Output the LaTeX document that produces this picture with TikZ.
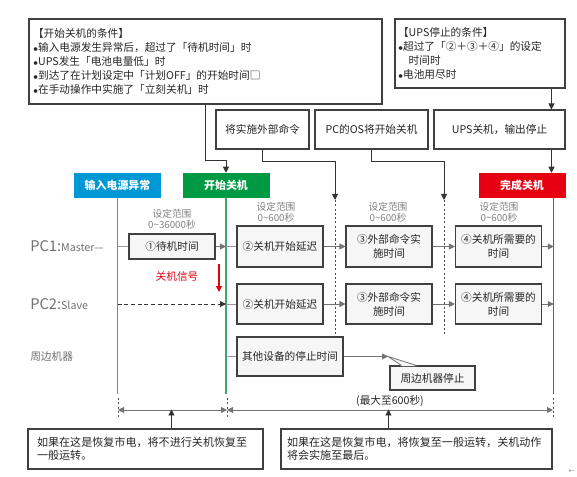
\documentclass[tikz,border=0pt]{standalone}
\usepackage{fontspec}
\setmainfont{Noto Sans CJK SC}
\usepackage{tikz}
\usetikzlibrary{arrows.meta,calc,positioning}
\definecolor{inblue}{RGB}{0,152,212}
\definecolor{stgreen}{RGB}{0,153,68}
\definecolor{endred}{RGB}{230,0,18}
\definecolor{boxfill}{RGB}{246,246,246}
\definecolor{labgray}{RGB}{112,112,112}
\newcommand{\dotb}{$\scriptstyle\bullet$}

\begin{document}
\begin{tikzpicture}[x=0.75pt, y=-0.75pt, >={Triangle[length=4.5pt,width=4.5pt]},
  every node/.style={font=\fontsize{8}{10.5}\selectfont, text=black!85, inner sep=0pt},
  sz/.style 2 args={minimum width=#1*0.75pt, minimum height=#2*0.75pt},
  tbox/.style={draw=black!75, line width=0.8pt, fill=boxfill, align=center},
  wbox/.style={draw=black!75, line width=0.8pt, fill=white, align=center},
  lbox/.style={draw=black!75, line width=0.8pt, fill=white, align=left},
  hdr/.style={fill=#1, text=white, font=\fontsize{8.2}{10}\selectfont\bfseries, sz={87}{25}},
  rng/.style={align=center, text=black!50, font=\fontsize{7.3}{8.2}\selectfont},
  conn/.style={->, draw=black!80, line width=0.7pt},
  flow/.style={->, draw=black!55, line width=0.7pt},
  feed/.style={draw=black!40, line width=0.7pt},
  sect/.style={draw=black!70, line width=0.6pt, dash pattern=on 1.6pt off 1.6pt},
  vline/.style={draw=#1, line width=0.9pt},
  side/.style={text=labgray, anchor=west}]
\useasboundingbox (0,0) rectangle (577,477);

% conditions and actions
\node[lbox, text width=258.75pt, inner xsep=3pt, minimum height=63.75pt] (startc) at (205.5,61.5)
  {【开始关机的条件】\\
   \dotb 输入电源发生异常后，超过了「待机时间」时\\
   \dotb UPS发生「电池电量低」时\\
   \dotb 到达了在计划设定中「计划OFF」的开始时间□\\
   \dotb 在手动操作中实施了「立刻关机」时};
\node[lbox, text width=123pt, inner xsep=2.25pt, minimum height=51.75pt] (upsc) at (480,53.5)
  {【UPS停止的条件】\\
   \dotb 超过了「②＋③＋④」的设定\\
   \hspace*{8pt}时间时\\
   \dotb 电池用尽时};
\node[wbox, sz={93}{39}] (ext) at (262.5,129.5) {将实施外部命令};
\node[wbox, sz={113}{39}] (os) at (371.5,129.5) {PC的OS将开始关机};
\node[wbox, sz={131}{39}] (upsoff) at (499.5,129.5) {UPS关机，输出停止};

\node[hdr=inblue] (inp) at (117.5,185.5) {输入电源异常};
\node[hdr=stgreen] (start) at (226,185.5) {开始关机};
\node[hdr=endred] (done) at (522,185.5) {完成关机};

\coordinate (d1) at (335,200);
\coordinate (d2) at (444,200);
\draw[conn] ($(startc.south west)+(177,0)$) |- ($(start.north)+(0,-12)$) -- (start.north);
\draw[conn] (ext.south) |- ($(d1)+(0,-39)$) -- (d1);
\draw[conn] (os.south) |- ($(d2)+(0,-39)$) -- (d2);
\draw[conn] ($(upsc.south west)+(157,0)$) coordinate (a) -- (a |- upsoff.north);
\draw[conn] ($(upsoff.south west)+(118,0)$) coordinate (b) -- (b |- done.north);

\draw[vline=inblue!85] (inp.south) -- ++(0,196);
\draw[vline=stgreen!80] (start.south) -- ++(0,196);
\draw[vline=endred!85] ($(done.south east)+(-12,0)$) coordinate (redx) -- ++(0,196);
\draw[sect] (d1) -- ++(0,135);
\draw[sect] (d2) -- ++(0,135);

% setting ranges
\node[rng] (r1) at (172,219.5) {设定范围\\0\textasciitilde36000秒};
\node[rng] (r2) at (276,212.5) {设定范围\\0\textasciitilde600秒};
\node[rng] (r3) at (388,212.5) {设定范围\\0\textasciitilde600秒};
\node[rng] (r4) at (499,212.5) {设定范围\\0\textasciitilde600秒};

% PC1
\node[side] (pc1) at (30,246.5) {{\fontsize{11}{11}\selectfont PC1:}Master—};
\node[tbox, sz={86}{25}] (wait1) at (172,246.5) {①待机时间};
\node[tbox, sz={86}{41}] (delay1) at (280,246.5) {②关机开始延迟};
\node[tbox, sz={86}{41}] (ext1) at (389,246.5) {③外部命令实\\施时间};
\node[tbox, sz={86}{41}] (need1) at (498.5,246.5) {④关机所需要的\\时间};
\draw[feed] (wait1.west -| inp.south) -- (wait1.west);
\draw[flow] (wait1.east) -- (wait1.east -| start.south);
\draw[feed] (wait1.east -| start.south) -- (delay1.west);
\draw[flow] (delay1) -- (ext1);
\draw[flow] (ext1) -- (need1);
\draw[flow] (need1.east) -- (need1.east -| redx);

\node[text=endred] (sig) at (177,276) {关机信号};
\coordinate (s0) at (219,264);
\coordinate (s1) at (219,292);
\draw[->, draw=endred, line width=0.8pt] (s0) -- (s1);

% PC2
\node[side] (pc2) at (30,304) {{\fontsize{11}{11}\selectfont PC2:}Slave};
\node[tbox, sz={86}{40}] (delay2) at (280,304) {②关机开始延迟};
\node[tbox, sz={86}{40}] (ext2) at (389,304) {③外部命令实\\施时间};
\node[tbox, sz={86}{40}] (need2) at (498.5,304) {④关机所需要的\\时间};
\draw[flow, draw=black!80, dash pattern=on 3pt off 2pt] (delay2.west -| inp.south) -- (delay2.west -| start.south);
\draw[feed] (delay2.west -| start.south) -- (delay2.west);
\draw[flow] (delay2) -- (ext2);
\draw[flow] (ext2) -- (need2);
\draw[flow] (need2.east) -- (need2.east -| redx);

% peripherals
\node[side] (per) at (30,356) {周边机器};
\node[tbox, sz={106}{39}] (other) at (290,356.5) {其他设备的停止时间};
\node[tbox, sz={85}{24}] (halt) at (432.5,378) {周边机器停止};
\coordinate (tip) at (388,356.5);
\draw[feed] (other.west -| start.south) -- (other.west);
\draw[flow] (other.east) -- (tip);
\fill[boxfill] ($(halt.north west)+(12,0.6)$) -- (tip) -- ($(halt.north west)+(27,0.6)$) -- cycle;
\draw[draw=black!55, line width=0.6pt] ($(halt.north west)+(12,0)$) -- (tip) -- ($(halt.north west)+(27,0)$);

% timeline
\coordinate (t0) at (118,410);
\coordinate (t1) at (227,410);
\coordinate (t2) at (553,410);
\foreach \t in {t0,t1,t2}
  \draw[sect] ($(\t)+(0,-12)$) -- ($(\t)+(0,8)$);
\draw[<->, draw=black!55, line width=0.7pt] (t0) -- (t1);
\draw[<->, draw=black!55, line width=0.7pt] (t1) -- (t2);
\node (maxt) at (390,401) {(最大至600秒)};

\node[lbox, text width=162.75pt, inner xsep=6.75pt, minimum height=30pt, font=\fontsize{8.3}{9.8}\selectfont] (back1) at (145.5,449)
  {如果在这是恢复市电，将不进行关机恢复至\\一般运转。};
\node[lbox, text width=194.25pt, inner xsep=4.5pt, minimum height=30pt, font=\fontsize{8.3}{9.8}\selectfont] (back2) at (416.5,449)
  {如果在这是恢复市电，将恢复至一般运转，关机动作\\将会实施至最后。};
\draw[conn] ($(back1.north west)+(144,0)$) -- ($(back1.north west)+(144,-19)$);
\draw[conn] ($(back2.north west)+(108,0)$) -- ($(back2.north west)+(108,-19)$);

\node[text=black!50, font=\fontsize{5}{5}\selectfont] (mark) at (572,471) {←};
\end{tikzpicture}
\end{document}
